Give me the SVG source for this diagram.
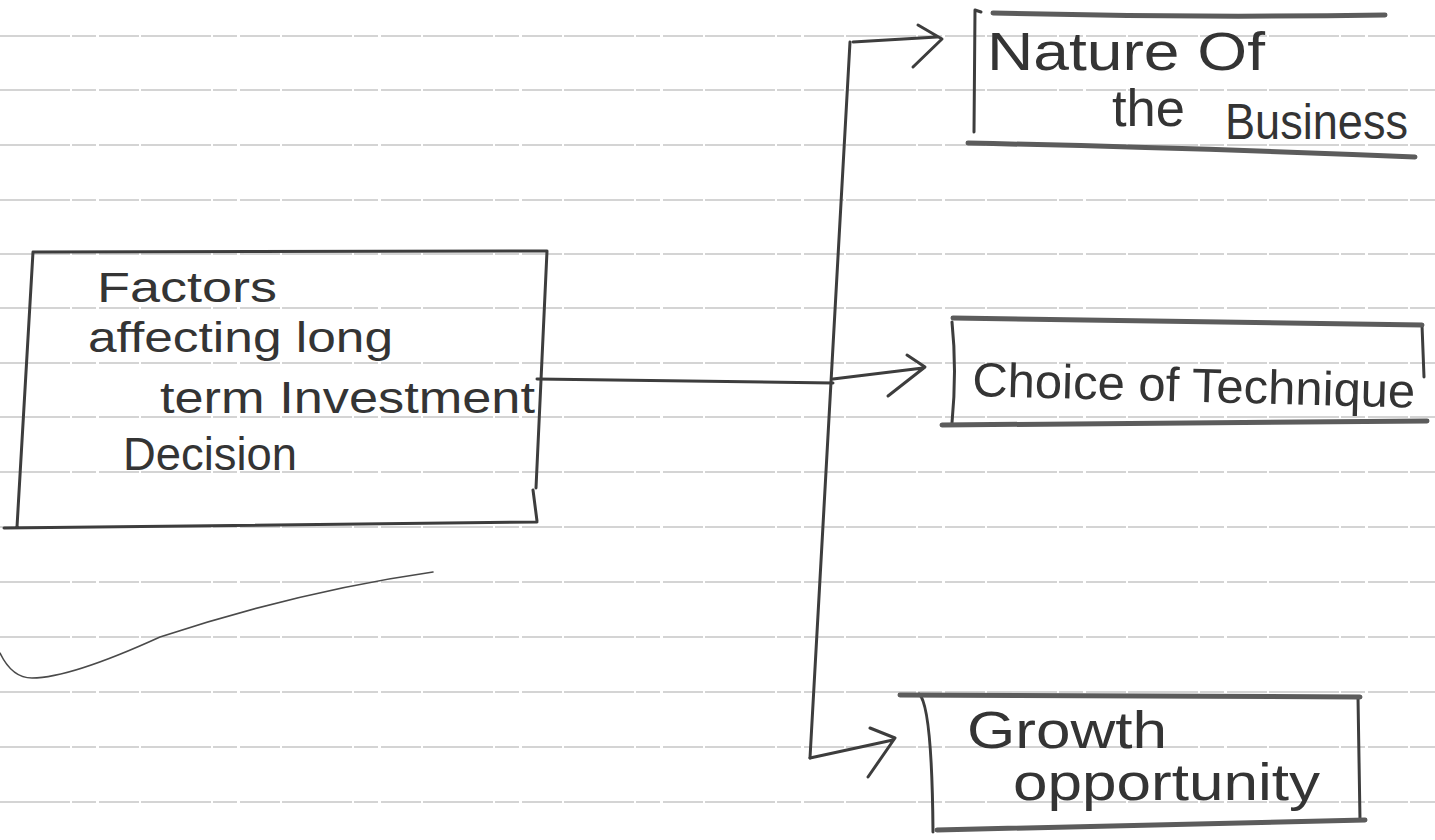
<svg xmlns="http://www.w3.org/2000/svg" width="1435" height="840" viewBox="0 0 1435 840">
<style>
.rule{stroke:#a9a9a9;stroke-width:1.1;stroke-dasharray:70 2 24 3 40 2;fill:none}
.pen{fill:none;stroke:#3d3d3d;stroke-width:3;stroke-linecap:round;stroke-linejoin:round}
.heavy{fill:none;stroke:#5c5c5c;stroke-width:5;stroke-linecap:round}
.thin{fill:none;stroke:#4a4a4a;stroke-width:1.6;stroke-linecap:round}
.hand{font-family:"Liberation Sans",Arial,sans-serif;fill:#343434}
</style>
<rect width="1435" height="840" fill="#ffffff"/>
<g id="paper-lines">
<line class="rule" x1="0" y1="36" x2="1435" y2="36"/>
<line class="rule" x1="0" y1="90" x2="1435" y2="90"/>
<line class="rule" x1="0" y1="145" x2="1435" y2="145"/>
<line class="rule" x1="0" y1="200" x2="1435" y2="200"/>
<line class="rule" x1="0" y1="254" x2="1435" y2="254"/>
<line class="rule" x1="0" y1="308" x2="1435" y2="308"/>
<line class="rule" x1="0" y1="363" x2="1435" y2="363"/>
<line class="rule" x1="0" y1="417" x2="1435" y2="417"/>
<line class="rule" x1="0" y1="472" x2="1435" y2="472"/>
<line class="rule" x1="0" y1="527" x2="1435" y2="527"/>
<line class="rule" x1="0" y1="582" x2="1435" y2="582"/>
<line class="rule" x1="0" y1="637" x2="1435" y2="637"/>
<line class="rule" x1="0" y1="692" x2="1435" y2="692"/>
<line class="rule" x1="0" y1="747" x2="1435" y2="747"/>
<line class="rule" x1="0" y1="802" x2="1435" y2="802"/>
</g>
<path class="thin" d="M0,653 Q12,678 32,678 Q70,678 160,637 Q300,591 433,572"/>
<g id="main">
<path class="pen" d="M33,252 L547,251 M547,251 L536,488 M533,490 L537,521 M33,252 L17,527 M4,528 L537,522"/>
<text class="hand" x="97" y="302" font-size="42" textLength="180" lengthAdjust="spacingAndGlyphs">Factors</text>
<text class="hand" x="88" y="352" font-size="42" textLength="305" lengthAdjust="spacingAndGlyphs">affecting long</text>
<text class="hand" x="160" y="413" font-size="44" textLength="375" lengthAdjust="spacingAndGlyphs">term Investment</text>
<text class="hand" x="123" y="470" font-size="46" textLength="174" lengthAdjust="spacingAndGlyphs">Decision</text>
</g>
<g id="nature">
<path class="pen" d="M975,10 L974,132 M975,10 L981,12"/>
<path class="heavy" d="M993,13 Q1190,18 1385,15 M968,143 Q1200,148 1415,157"/>
<text class="hand" x="987" y="70" font-size="54" textLength="278" lengthAdjust="spacingAndGlyphs">Nature Of</text>
<text class="hand" x="1112" y="126" font-size="52" textLength="73" lengthAdjust="spacingAndGlyphs">the</text>
<text class="hand" x="1225" y="139" font-size="50" textLength="183" lengthAdjust="spacingAndGlyphs">Business</text>
</g>
<g id="choice">
<path class="pen" d="M952,322 Q957,370 952,423 M1422,325 L1424,377"/>
<path class="heavy" d="M953,318 L1422,325 M942,425 L1427,421"/>
<text class="hand" x="972" y="396" font-size="48" textLength="443" lengthAdjust="spacingAndGlyphs" transform="rotate(1.5 972 396)">Choice of Technique</text>
</g>
<g id="growth">
<path class="pen" d="M919,694 Q932,705 933,832 M1358,697 L1360,820"/>
<path class="heavy" d="M900,695 L1360,697 M937,830 L1365,820"/>
<text class="hand" x="967" y="748" font-size="52" textLength="200" lengthAdjust="spacingAndGlyphs">Growth</text>
<text class="hand" x="1013" y="800" font-size="52" textLength="307" lengthAdjust="spacingAndGlyphs">opportunity</text>
</g>
<g id="connectors">
<path class="pen" d="M537,379 L833,383"/>
<path class="pen" d="M850,42 L810,758"/>
<path class="pen" d="M853,42 L937,37 M918,25 L942,39 L913,67"/>
<path class="pen" d="M833,379 L923,368 M907,355 L925,367 L888,396"/>
<path class="pen" d="M810,758 L893,740 M870,728 L895,738 L868,777"/>
</g>
</svg>
